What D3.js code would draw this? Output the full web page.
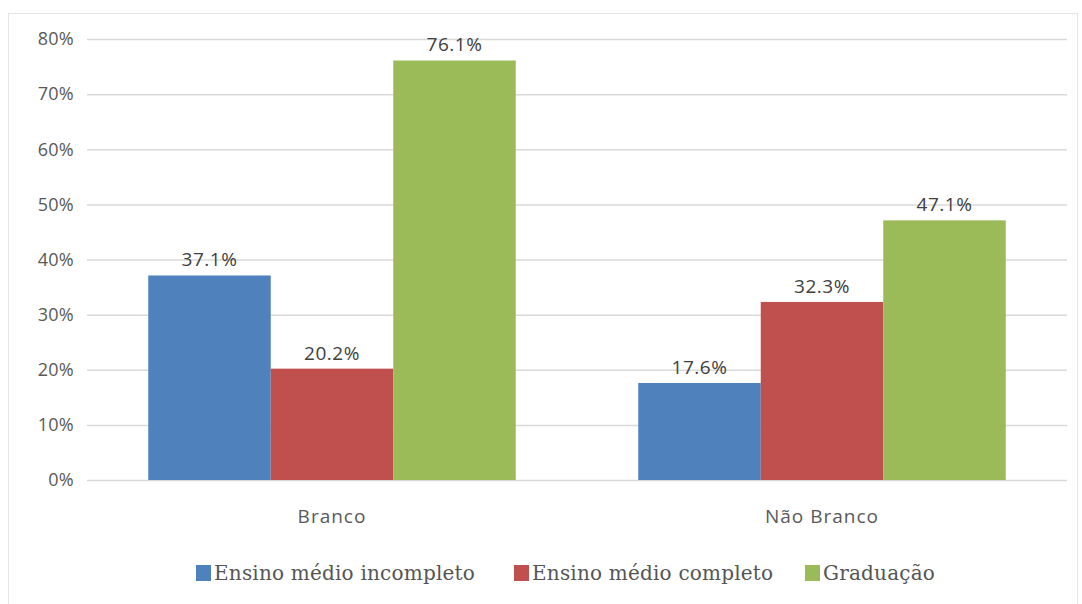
<meta charset="utf-8">
<head>
  <script src="https://d3js.org/d3.v7.min.js"></script>
  <style>
    body { margin: 0; background: #fff; }
  </style>
</head>
<body>
  <svg id="svg" width="1082" height="604"></svg>
  <script>
    let groups = ["Branco", "Não Branco"];
    let seriesNames = ["Ensino médio incompleto", "Ensino médio completo", "Graduação"];
    let seriesColors = ["#4f81bd", "#c0504d", "#9bbb59"];
    let incompleto = [37.1, 17.6];
    let completo = [20.2, 32.3];
    let graduacao = [76.1, 47.1];
    let yTicks = [0, 10, 20, 30, 40, 50, 60, 70, 80];

    let seriesValues = [incompleto, completo, graduacao];
    let data = [];
    groups.forEach((g, gi) => {
      seriesNames.forEach((s, si) => {
        data.push({group: g, series: s, value: seriesValues[si][gi], color: seriesColors[si]});
      });
    });

    let sans = "'Open Sans', 'DejaVu Sans', sans-serif";
    let serif = "'DejaVu Serif', 'Liberation Serif', serif";

    let svg = d3.select("#svg");

    // outer frame
    svg.append("rect")
      .attr("x", 8.5).attr("y", 13.5)
      .attr("width", 1069).attr("height", 620)
      .attr("fill", "none")
      .attr("stroke", "#e6e6e6");

    let plotLeft = 87, plotRight = 1067, plotTop = 39, plotBottom = 480;

    let x0 = d3.scaleBand()
      .domain(groups)
      .range([plotLeft, plotRight]);

    let x1 = d3.scaleBand()
      .domain(seriesNames)
      .range([x0.bandwidth() * 0.125, x0.bandwidth() * 0.875]);

    let y = d3.scaleLinear()
      .domain([0, 80])
      .range([plotBottom, plotTop]);

    // gridlines
    svg.append("g")
      .selectAll("line")
      .data(yTicks)
      .enter().append("line")
      .attr("x1", plotLeft).attr("x2", plotRight)
      .attr("y1", d => y(d) + 0.5).attr("y2", d => y(d) + 0.5)
      .attr("stroke", "#d9d9d9")
      .attr("stroke-width", 1.5);

    // y labels
    svg.append("g")
      .selectAll("text")
      .data(yTicks)
      .enter().append("text")
      .attr("x", 74)
      .attr("y", d => y(d))
      .attr("dy", "0.35em")
      .attr("text-anchor", "end")
      .style("font-family", sans)
      .style("font-size", "18px")
      .style("letter-spacing", "0.3px")
      .attr("fill", "#595959")
      .text(d => d + "%");

    // bars
    let bars = svg.append("g");
    bars.selectAll("rect")
      .data(data)
      .enter().append("rect")
      .attr("x", d => x0(d.group) + x1(d.series))
      .attr("width", x1.bandwidth())
      .attr("y", d => y(d.value))
      .attr("height", d => y(0) - y(d.value))
      .attr("fill", d => d.color);

    bars.selectAll("text")
      .data(data)
      .enter().append("text")
      .attr("x", d => x0(d.group) + x1(d.series) + x1.bandwidth() / 2)
      .attr("y", d => y(d.value) - 9)
      .attr("text-anchor", "middle")
      .style("font-family", sans)
      .style("font-size", "19px")
      .style("letter-spacing", "0.5px")
      .attr("fill", "#404040")
      .text(d => d.value.toFixed(1) + "%");

    // category labels
    svg.append("g")
      .selectAll("text")
      .data(groups)
      .enter().append("text")
      .attr("x", d => x0(d) + x0.bandwidth() / 2)
      .attr("y", 523)
      .attr("text-anchor", "middle")
      .style("font-family", sans)
      .style("font-size", "19px")
      .style("letter-spacing", "1px")
      .attr("fill", "#595959")
      .text(d => d);

    // legend
    let legendX = [196, 514, 805];
    let legend = svg.append("g");
    seriesNames.forEach((s, i) => {
      legend.append("rect")
        .attr("x", legendX[i]).attr("y", 565)
        .attr("width", 15).attr("height", 16)
        .attr("fill", seriesColors[i]);
      legend.append("text")
        .attr("x", legendX[i] + 18).attr("y", 580)
        .style("font-family", serif)
        .style("font-size", "20px")
        .style("letter-spacing", "0.2px")
        .attr("fill", "#555")
        .text(s);
    });
  </script>
</body>
